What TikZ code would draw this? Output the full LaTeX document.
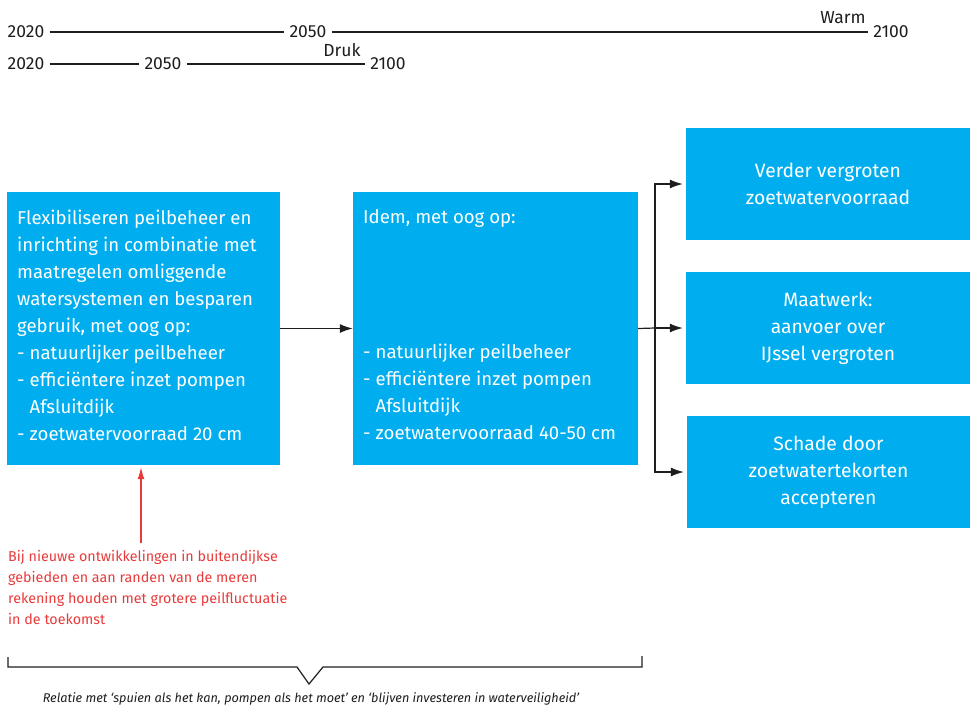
\documentclass[tikz,border=0pt]{standalone}
\usepackage{fontspec}
\setmainfont{Fira Sans}
\usetikzlibrary{arrows.meta}
\definecolor{boxblue}{RGB}{0,174,239}
\definecolor{notered}{RGB}{232,58,58}
\definecolor{linegray}{RGB}{30,30,30}
\tikzset{
  yr/.style={inner xsep=5pt, inner ysep=0pt, font=\fontsize{17.5}{19}\selectfont, text=linegray},
  tl/.style={line width=1.3pt, draw=linegray},
  bluebox/.style={fill=boxblue, draw=none, inner sep=0pt},
  boxtext/.style={inner sep=0pt, text=white, align=left, font=\fontsize{18.6}{27}\selectfont},
  ctext/.style={text=white, align=center, font=\fontsize{19.3}{27}\selectfont},
  arr/.style={line width=1.2pt, draw=linegray, -{Latex[length=13pt,width=9pt]}},
}
\begin{document}
\begin{tikzpicture}[x=1pt,y=-1pt]
\useasboundingbox (0,0) rectangle (970,707);
% timelines
\node[yr] (a1) at (26,32) {2020};
\node[yr] (a2) at (308,32) {2050};
\node[yr] (a3) at (891,32) {2100};
\node[yr, inner xsep=0pt] (warm) at (843,18) {Warm};
\draw[tl] (a1.east) -- (a2.west);
\draw[tl] (a2.east) -- (a3.west);
\node[yr] (b1) at (26,64) {2020};
\node[yr] (b2) at (163,64) {2050};
\node[yr] (b3) at (388,64) {2100};
\node[yr, inner xsep=0pt] (druk) at (342,50) {Druk};
\draw[tl] (b1.east) -- (b2.west);
\draw[tl] (b2.east) -- (b3.west);
% boxes
\node[bluebox, minimum width=273pt, minimum height=273pt] (box1) at (143.5,328.5) {};
\node[bluebox, minimum width=285pt, minimum height=273pt] (box2) at (495.5,328.5) {};
\node[bluebox, minimum width=284pt, minimum height=112pt] (ra) at (828,184) {};
\node[bluebox, minimum width=284pt, minimum height=112pt] (rb) at (828,328) {};
\node[bluebox, minimum width=283pt, minimum height=112pt] (rc) at (828.5,472) {};
\node[boxtext, anchor=north west] (t1) at (17,209.5) {Flexibiliseren peilbeheer en\\inrichting in combinatie met\\maatregelen omliggende\\watersystemen en besparen\\gebruik, met oog op:\\- natuurlijker peilbeheer\\- efficiëntere inzet pompen\\\hphantom{- }Afsluitdijk\\- zoetwatervoorraad 20 cm};
\node[boxtext, anchor=north west] (t2) at (363,209.5) {Idem, met oog op:\\[108pt]- natuurlijker peilbeheer\\- efficiëntere inzet pompen\\\hphantom{- }Afsluitdijk\\- zoetwatervoorraad 40-50 cm};
\node[ctext] at (ra.center) {Verder vergroten\\zoetwatervoorraad};
\node[ctext] at (rb.center) {Maatwerk:\\aanvoer over\\IJssel vergroten};
\node[ctext] at (rc.center) {Schade door\\zoetwatertekorten\\accepteren};
% connectors
\draw[arr] (box1.east) -- (box2.west);
\coordinate (j) at (655,328);
\draw[line width=1.2pt, draw=linegray] (box2.east) -- (j);
\draw[arr, shorten >=3pt] (j) |- (ra.west);
\draw[arr, shorten >=3pt] (j) -- (rb.west);
\draw[arr, shorten >=3pt] (j) |- (rc.west);
% red note
\node[anchor=north west, inner sep=0pt, align=left, text=notered, font=\fontsize{14.3}{21}\selectfont] (note) at (8,550) {Bij nieuwe ontwikkelingen in buitendijkse\\gebieden en aan randen van de meren\\rekening houden met grotere peilfluctuatie\\in de toekomst};
\coordinate (nt) at (141,543);
\draw[line width=1.2pt, draw=notered, -{Latex[length=12pt,width=7pt]}, shorten >=2pt] (nt) -- (nt |- box1.south);
% bracket
\draw[line width=1.2pt, draw=linegray] (8,657) -- (8,667) -- (297,667) -- (309,684) -- (323,667) -- (642,667) -- (642,656);
\node[font=\fontsize{12.7}{14}\selectfont\itshape, text=linegray] (cap) at (311,699) {Relatie met ‘spuien als het kan, pompen als het moet’ en ‘blijven investeren in waterveiligheid’};
\end{tikzpicture}
\end{document}
